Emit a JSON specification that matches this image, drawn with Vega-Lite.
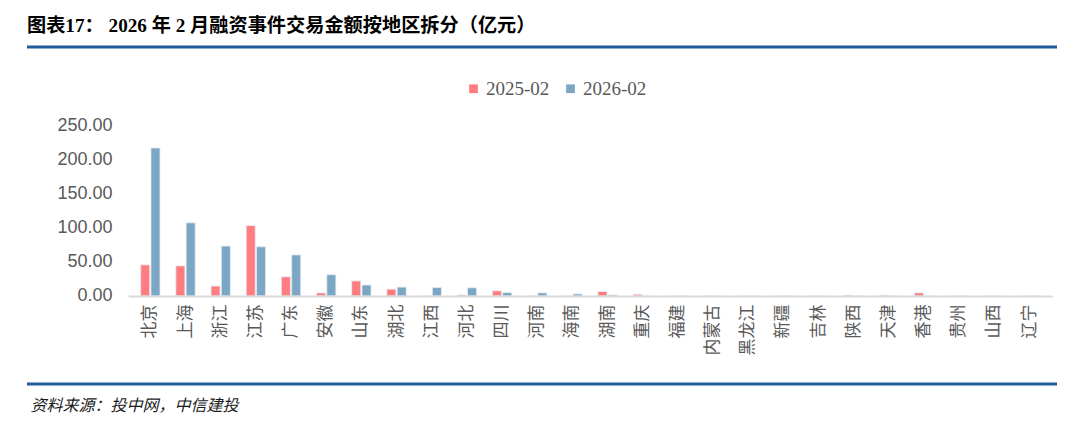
{
  "$schema": "https://vega.github.io/schema/vega-lite/v6.json",
  "autosize": {"type": "none"},
  "width": 1030,
  "height": 337,
  "padding": {"left": 27, "top": 47, "right": 23, "bottom": 43},
  "background": "white",
  "config": {"view": {"stroke": null}},
  "title": {
    "text": "图表17： 2026 年 2 月融资事件交易金额按地区拆分（亿元）",
    "anchor": "start",
    "frame": "group",
    "orient": "top",
    "offset": 9,
    "font": "Liberation Serif, Noto Sans CJK SC",
    "fontSize": 19.2,
    "fontWeight": "bold",
    "color": "#000000"
  },
  "datasets": {
    "regions": [
      {"region": "北京", "period": "2025-02", "value": 45.5},
      {"region": "北京", "period": "2026-02", "value": 216.5},
      {"region": "上海", "period": "2025-02", "value": 44},
      {"region": "上海", "period": "2026-02", "value": 107},
      {"region": "浙江", "period": "2025-02", "value": 14.5},
      {"region": "浙江", "period": "2026-02", "value": 73},
      {"region": "江苏", "period": "2025-02", "value": 103},
      {"region": "江苏", "period": "2026-02", "value": 72},
      {"region": "广东", "period": "2025-02", "value": 28},
      {"region": "广东", "period": "2026-02", "value": 60},
      {"region": "安徽", "period": "2025-02", "value": 4.4},
      {"region": "安徽", "period": "2026-02", "value": 31},
      {"region": "山东", "period": "2025-02", "value": 22},
      {"region": "山东", "period": "2026-02", "value": 16},
      {"region": "湖北", "period": "2025-02", "value": 10},
      {"region": "湖北", "period": "2026-02", "value": 13},
      {"region": "江西", "period": "2025-02", "value": 0},
      {"region": "江西", "period": "2026-02", "value": 12.3},
      {"region": "河北", "period": "2025-02", "value": 1.5},
      {"region": "河北", "period": "2026-02", "value": 12},
      {"region": "四川", "period": "2025-02", "value": 7.5},
      {"region": "四川", "period": "2026-02", "value": 5},
      {"region": "河南", "period": "2025-02", "value": 0},
      {"region": "河南", "period": "2026-02", "value": 4.5},
      {"region": "海南", "period": "2025-02", "value": 0},
      {"region": "海南", "period": "2026-02", "value": 3},
      {"region": "湖南", "period": "2025-02", "value": 6.5},
      {"region": "湖南", "period": "2026-02", "value": 1.5},
      {"region": "重庆", "period": "2025-02", "value": 2.5},
      {"region": "重庆", "period": "2026-02", "value": 0},
      {"region": "福建", "period": "2025-02", "value": 0},
      {"region": "福建", "period": "2026-02", "value": 0},
      {"region": "内蒙古", "period": "2025-02", "value": 0},
      {"region": "内蒙古", "period": "2026-02", "value": 0},
      {"region": "黑龙江", "period": "2025-02", "value": 0},
      {"region": "黑龙江", "period": "2026-02", "value": 0},
      {"region": "新疆", "period": "2025-02", "value": 0},
      {"region": "新疆", "period": "2026-02", "value": 0},
      {"region": "吉林", "period": "2025-02", "value": 0},
      {"region": "吉林", "period": "2026-02", "value": 0},
      {"region": "陕西", "period": "2025-02", "value": 1},
      {"region": "陕西", "period": "2026-02", "value": 0},
      {"region": "天津", "period": "2025-02", "value": 1},
      {"region": "天津", "period": "2026-02", "value": 0},
      {"region": "香港", "period": "2025-02", "value": 4.5},
      {"region": "香港", "period": "2026-02", "value": 0},
      {"region": "贵州", "period": "2025-02", "value": 0},
      {"region": "贵州", "period": "2026-02", "value": 0},
      {"region": "山西", "period": "2025-02", "value": 0},
      {"region": "山西", "period": "2026-02", "value": 0},
      {"region": "辽宁", "period": "2025-02", "value": 0},
      {"region": "辽宁", "period": "2026-02", "value": 0}
    ],
    "frame": [{"edge": "top", "level": 364.2}, {"edge": "bottom", "level": -128.8}]
  },
  "layer": [
    {
      "data": {"name": "regions"},
      "mark": {"type": "bar", "stroke": "#E4ECF3", "strokeWidth": 0.8},
      "encoding": {
        "x": {
          "field": "region",
          "type": "nominal",
          "sort": null,
          "scale": {"range": [101, 1025], "paddingInner": 0.45, "paddingOuter": 0.36},
          "axis": {
            "orient": "bottom",
            "offset": -88,
            "zindex": 1,
            "labelAngle": -90,
            "labelFont": "Noto Sans CJK SC",
            "labelFontSize": 17,
            "labelColor": "#595959",
            "labelPadding": 8,
            "ticks": false,
            "tickSize": 0,
            "domain": true,
            "domainColor": "#D9D9D9",
            "domainWidth": 2,
            "title": "资料来源：投中网，中信建投",
            "titleAnchor": "start",
            "titleAlign": "left",
            "titleBaseline": "alphabetic",
            "titleAngle": 0,
            "titleX": 3,
            "titleY": 114,
            "titleFont": "Noto Sans CJK SC",
            "titleFontSize": 16,
            "titleFontStyle": "italic",
            "titleFontWeight": "normal",
            "titleColor": "#1a1a1a"
          }
        },
        "xOffset": {"field": "period", "type": "nominal", "scale": {"paddingInner": 0.12}},
        "y": {
          "field": "value",
          "type": "quantitative",
          "scale": {"domain": [-128.8, 364.2], "nice": false, "zero": false},
          "axis": {
            "values": [0, 50, 100, 150, 200, 250],
            "format": ".2f",
            "offset": -100,
            "grid": false,
            "domain": false,
            "ticks": false,
            "tickSize": 0,
            "labelPadding": 15,
            "labelFont": "Liberation Sans",
            "labelFontSize": 18,
            "labelColor": "#595959",
            "title": null
          }
        },
        "color": {
          "field": "period",
          "type": "nominal",
          "scale": {"domain": ["2025-02", "2026-02"], "range": ["#FF7C80", "#7BA7C4"]},
          "legend": {
            "title": null,
            "orient": "none",
            "legendX": 437,
            "legendY": 32,
            "direction": "horizontal",
            "symbolType": "square",
            "symbolSize": 76,
            "symbolStrokeWidth": 0,
            "labelFont": "Liberation Serif",
            "labelFontSize": 19,
            "labelColor": "#595959",
            "labelOffset": 3,
            "columnPadding": 11
          }
        }
      }
    },
    {
      "data": {"name": "frame"},
      "mark": {"type": "rule", "color": "#1F5C99", "strokeWidth": 3},
      "encoding": {
        "y": {"field": "level", "type": "quantitative"}
      }
    }
  ]
}
